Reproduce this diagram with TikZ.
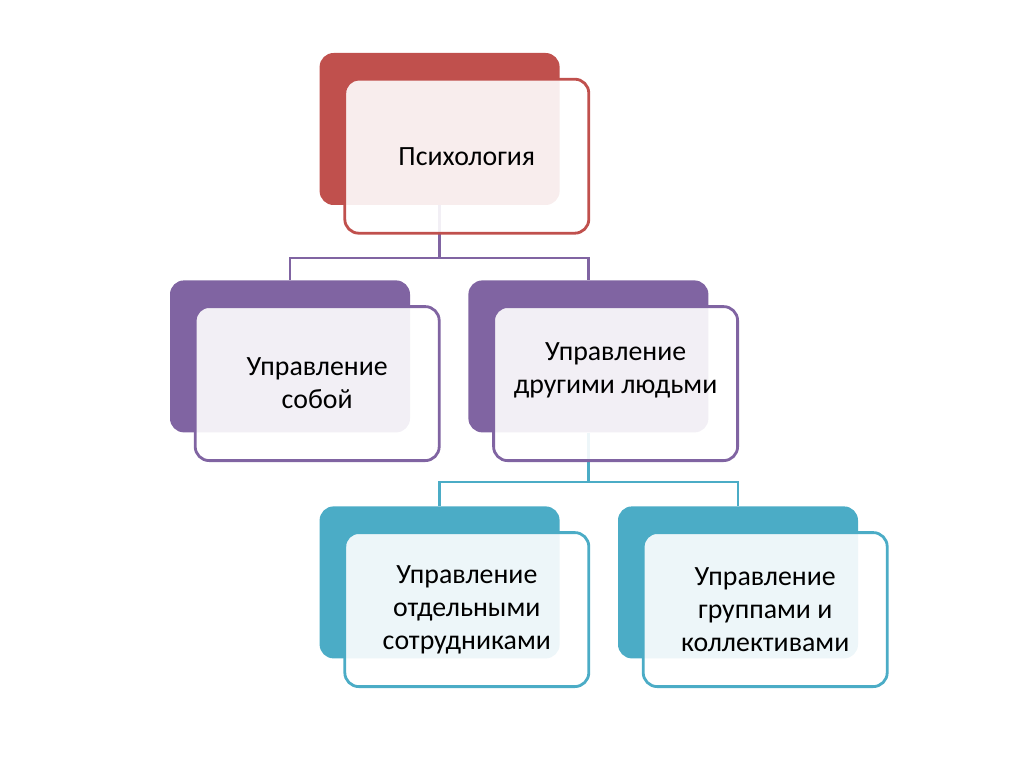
\documentclass[tikz,border=0pt]{standalone}
\usepackage{fontspec}
\setmainfont{Carlito}
\usepackage{tikz}
\usetikzlibrary{calc}
\definecolor{psyred}{HTML}{C0504D}
\definecolor{mgmtpurple}{HTML}{8064A2}
\definecolor{staffteal}{HTML}{4BACC6}

\tikzset{
    backbox/.style={rectangle, rounded corners=0.35cm, minimum width=6.0cm, minimum height=3.8cm, fill=#1},
    frontbox/.style={rectangle, rounded corners=0.35cm, minimum width=6.1cm, minimum height=3.85cm,
        draw=#1, line width=2pt, fill=white, fill opacity=0.9, text opacity=1,
        align=center, font=\fontsize{19.8}{23.5}\selectfont},
    linkline/.style={draw=#1, line width=1.6pt}
}

\begin{document}
\begin{tikzpicture}
        \useasboundingbox (0,0) rectangle (25.6,-19.175);

        % back boxes
        \node[backbox=psyred] (psyB) at (10.99, -3.225) {};
        \node[backbox=mgmtpurple] (selfB) at (7.25, -8.91) {};
        \node[backbox=mgmtpurple] (othersB) at (14.71, -8.91) {};
        \node[backbox=staffteal] (indivB) at (10.99, -14.56) {};
        \node[backbox=staffteal] (groupB) at (18.45, -14.56) {};

        % connectors
        \draw[linkline=mgmtpurple] (psyB.south) -- ++(0,-1.325) -| (selfB.north);
        \draw[linkline=mgmtpurple] (psyB.south) -- ++(0,-1.325) -| (othersB.north);
        \draw[linkline=staffteal] (othersB.south) -- ++(0,-1.225) -| (indivB.north);
        \draw[linkline=staffteal] (othersB.south) -- ++(0,-1.225) -| (groupB.north);

        % front boxes
        \node[frontbox=psyred] (psyF) at ($(psyB)+(0.68,-0.68)$) {Психология};
        \node[frontbox=mgmtpurple] (selfF) at ($(selfB)+(0.68,-0.68)$) {Управление\\собой};
        \node[frontbox=mgmtpurple, text depth=0.8cm] (othersF) at ($(othersB)+(0.68,-0.68)$) {Управление\\другими людьми};
        \node[frontbox=staffteal] (indivF) at ($(indivB)+(0.68,-0.68)$) {Управление\\отдельными\\сотрудниками};
        \node[frontbox=staffteal] (groupF) at ($(groupB)+(0.68,-0.68)$) {Управление\\группами и\\коллективами};
    \end{tikzpicture}
\end{document}
